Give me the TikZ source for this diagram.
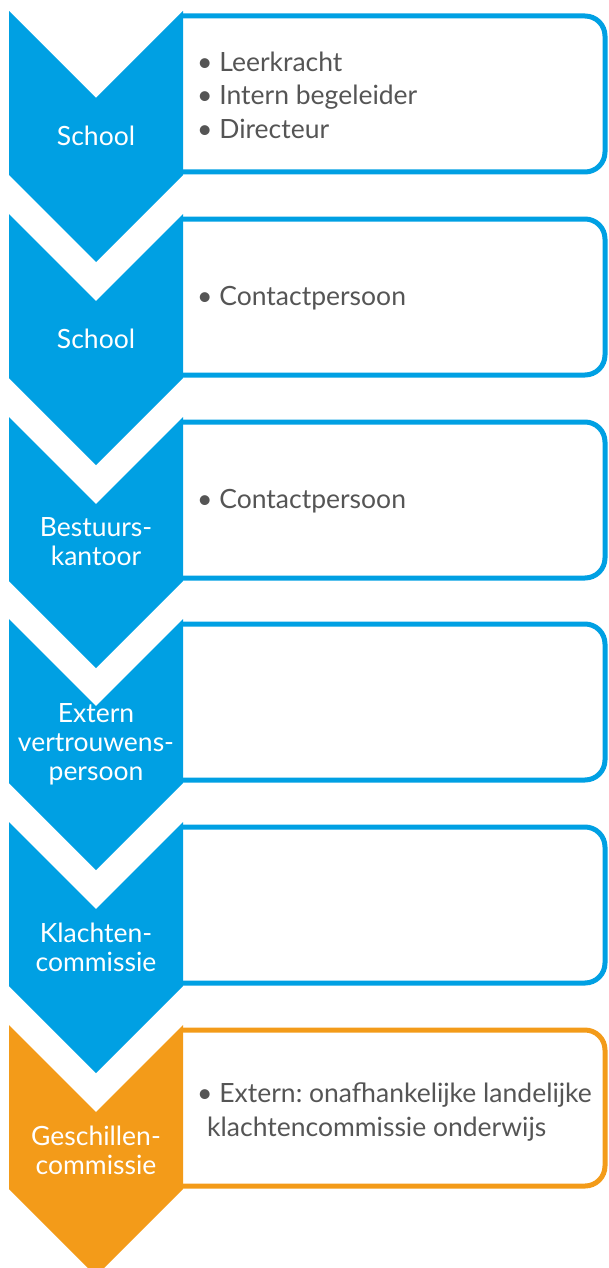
\documentclass[tikz,border=0pt]{standalone}
\usepackage{fontspec}
\setmainfont{Lato}
\usepackage{tikz}
\usetikzlibrary{
    positioning
}
\frenchspacing
\definecolor{stepblue}{RGB}{0,160,227}
\definecolor{steporange}{RGB}{243,155,25}
\definecolor{bodygrey}{RGB}{85,85,85}
\newcommand{\stepchevron}[2]{\fill[#2] (9,#1) -- ++(87,87) -- ++(87,-87) -- ++(0,164) -- ++(-87,87) -- ++(-87,-87) -- cycle;}
\newcommand{\stepframe}[2]{\draw[#2, stepline] (183,#1+5) -- (605,#1+5) -- (605,#1+161) -- (183,#1+161);}
\tikzset{
    stepline/.style={line width=5pt, rounded corners=20pt},
    steplabel/.style={text=white, align=center, font=\fontsize{26.5}{29}\selectfont, inner sep=0pt},
    steptext/.style={text=bodygrey, align=left, anchor=west, font=\fontsize{26.5}{33.5}\selectfont, inner sep=0pt}
}

\begin{document}
\begin{tikzpicture}[x=1pt, y=-1pt]
                    \useasboundingbox (0,0) rectangle (609,1268);

                    \stepframe{11}{stepblue}
                    \stepframe{214}{stepblue}
                    \stepframe{417}{stepblue}
                    \stepframe{619}{stepblue}
                    \stepframe{822}{stepblue}
                    \stepframe{1025}{steporange}

                    \stepchevron{11}{stepblue}
                    \stepchevron{214}{stepblue}
                    \stepchevron{417}{stepblue}
                    \stepchevron{619}{stepblue}
                    \stepchevron{822}{stepblue}
                    \stepchevron{1025}{steporange}

                    \node[steplabel] (school) at (96,136) {School};
                    \node[steplabel] (schoolcp) at (96,339) {School};
                    \node[steplabel] (bestuur) at (96,542) {Bestuurs-\\kantoor};
                    \node[steplabel] (extern) at (96,744) {Extern\\vertrouwens-\\persoon};
                    \node[steplabel] (klachten) at (96,947) {Klachten-\\commissie};
                    \node[steplabel] (geschillen) at (96,1150) {Geschillen-\\commissie};

                    \node[steptext] (leden) at (197,95) {\textbullet\ Leerkracht\\\textbullet\ Intern begeleider\\\textbullet\ Directeur};
                    \node[steptext] (contact) at (197,298) {\textbullet\ Contactpersoon};
                    \node[steptext] (contactb) at (197,501) {\textbullet\ Contactpersoon};
                    \node[steptext] (lkc) at (197,1112) {\textbullet\ Extern: onafhankelijke landelijke\\\hspace*{10pt}klachtencommissie onderwijs};
\end{tikzpicture}
\end{document}
